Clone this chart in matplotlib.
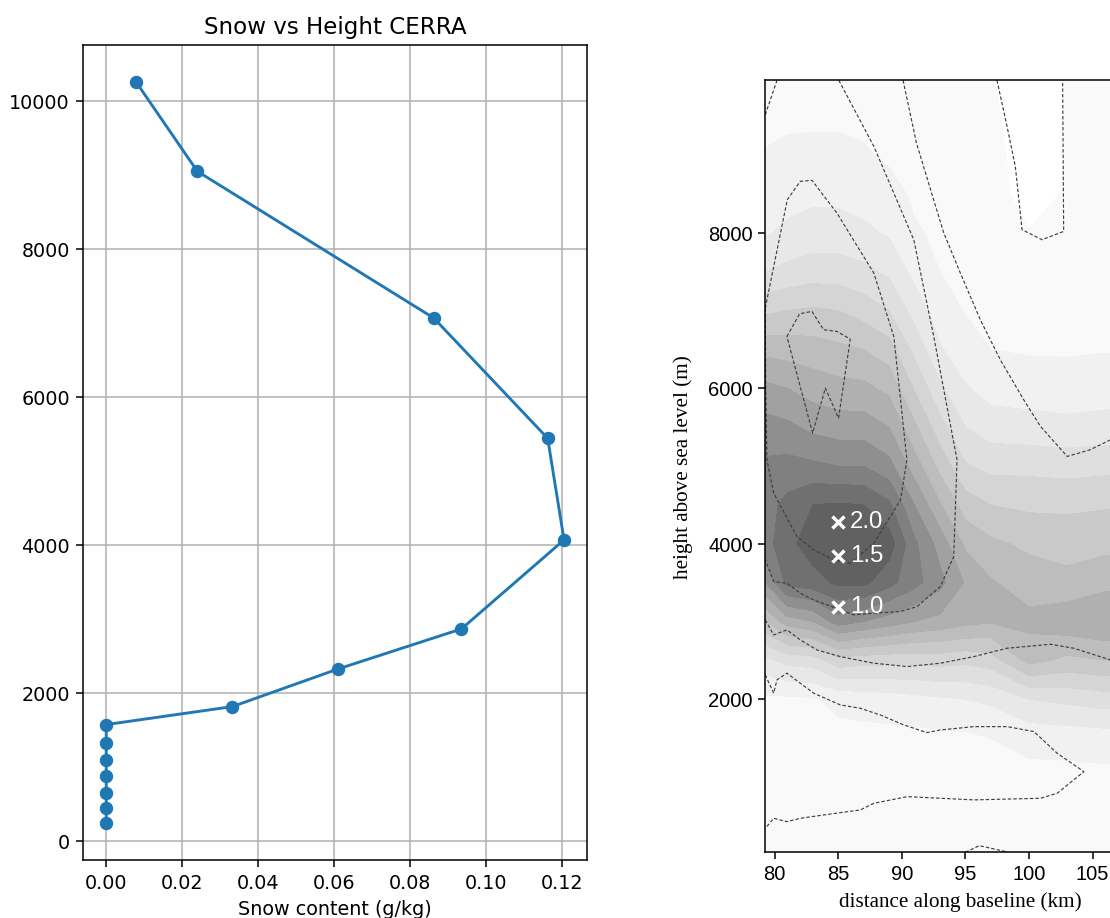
import matplotlib
matplotlib.use("Agg")
import matplotlib.pyplot as plt
import numpy as np

DPI = 138

# ---- left panel: CERRA snow profile ----
snow_content = [0.0, 0.0, 0.0, 0.0, 0.0, 0.0, 0.0, 0.0332, 0.0611, 0.0935,
                0.1205, 0.1162, 0.0862, 0.0240, 0.0078]
snow_height = [248, 451, 651, 888, 1104, 1330, 1577, 1820, 2330, 2870,
               4073, 5446, 7072, 9054, 10266]

# ---- right panel: cross-section (distance km x height m) ----
dist_km = [79.3, 81, 83, 85, 87, 89, 91, 93, 95, 97, 100, 103, 106, 110]
height_m = [0, 500, 1000, 1500, 2000, 2500, 3000, 3500, 4000, 4500, 5000,
            5500, 6000, 6500, 7000, 7500, 8000, 8500, 9000, 9500, 10000]

# shading class, one list per distance column (bottom -> top)
shade_cols = [
    [0.2, 0.2, 0.2, 0.2, 0.3, 2.2, 5.5, 8.5, 10.1, 10.1, 9.7, 8.9, 7.75, 6.2, 4.3, 2.5, 1.41, 0.95, 0.55, 0.3, 0.2],
    [0.2, 0.2, 0.2, 0.2, 0.3, 2.83, 7.0, 10.8, 11.2, 10.8, 9.83, 8.72, 7.5, 6.07, 4.5, 2.79, 1.7, 1.15, 0.72, 0.3, 0.2],
    [0.2, 0.2, 0.2, 0.2, 0.4, 3.0, 7.5, 11.1, 12.0, 11.5, 9.7, 8.25, 7.06, 5.94, 4.64, 3.0, 1.95, 1.26, 0.79, 0.3, 0.2],
    [0.2, 0.2, 0.2, 0.2, 0.75, 4.1, 9.0, 11.7, 12.3, 11.6, 9.5, 8.0, 6.83, 5.72, 4.5, 3.0, 1.93, 1.25, 0.78, 0.3, 0.2],
    [0.2, 0.2, 0.2, 0.2, 0.9, 3.9, 8.5, 11.75, 12.4, 11.5, 9.5, 8.0, 6.75, 5.5, 4.07, 2.75, 1.7, 1.1, 0.6, 0.3, 0.15],
    [0.2, 0.2, 0.2, 0.2, 1.0, 3.83, 8.0, 10.83, 12.0, 10.7, 8.83, 7.5, 6.25, 4.93, 3.5, 2.3, 1.39, 0.83, 0.35, 0.2, 0.1],
    [0.2, 0.2, 0.2, 0.2, 1.2, 3.8, 7.5, 9.85, 9.7, 8.5, 7.0, 5.7, 4.4, 3.2, 2.1, 1.2, 0.6, 0.35, 0.25, 0.15, 0.1],
    [0.2, 0.2, 0.2, 0.25, 1.35, 3.9, 7.2, 8.8, 8.1, 6.6, 5.2, 3.9, 2.7, 1.6, 0.95, 0.5, 0.35, 0.25, 0.15, 0.1, 0.1],
    [0.2, 0.2, 0.2, 0.3, 1.5, 3.75, 6.8, 7.4, 6.3, 5.0, 3.6, 2.5, 1.6, 0.9, 0.45, 0.35, 0.3, 0.2, 0.15, 0.1, 0.05],
    [0.2, 0.2, 0.2, 0.5, 1.7, 4.0, 6.6, 6.6, 5.7, 4.5, 3.2, 2.0, 1.1, 0.5, 0.35, 0.3, 0.25, 0.2, 0.2, 0.1, 0.05],
    [0.2, 0.2, 0.2, 0.83, 2.5, 5.83, 6.8, 6.0, 5.3, 4.3, 3.2, 1.9, 1.0, 0.4, 0.3, 0.2, 0.02, -0.2, -0.3, -0.3, -0.3],
    [0.2, 0.2, 0.2, 0.9, 2.75, 5.25, 7.2, 5.8, 5.1, 4.3, 3.1, 1.8, 0.9, 0.4, 0.3, 0.2, 0.1, 0.05, 0.02, 0.02, 0.02],
    [0.2, 0.2, 0.25, 1.0, 3.0, 5.5, 7.5, 6.2, 5.2, 4.4, 3.2, 1.9, 1.0, 0.45, 0.35, 0.25, 0.15, 0.1, 0.08, 0.06, 0.05],
    [0.2, 0.2, 0.25, 1.0, 3.0, 5.5, 7.4, 6.2, 5.2, 4.4, 3.2, 1.9, 1.0, 0.45, 0.35, 0.25, 0.15, 0.1, 0.08, 0.06, 0.05],
]
shade_levels = [0, 0.5, 1.5, 2.5, 3.5, 4.5, 5.5, 6.5, 7.5, 8.5, 9.5, 10.5, 11.5, 14]
shade_grays = [0.976, 0.945, 0.91, 0.875, 0.835, 0.79, 0.74, 0.69, 0.63, 0.56, 0.50, 0.44, 0.38]

# dashed contour lines (km, m)
dash_inner = [(80.97, 6668), (81.97, 6960), (82.94, 6990), (83.85, 6754), (84.9, 6733),
              (85.95, 6634), (85.03, 5617), (83.99, 6003), (82.99, 5424), (80.97, 6668)]
dash_second = [(79.27, 7033), (81.0, 8428), (82.02, 8664), (82.94, 8677), (84.9, 8256),
               (87.8, 7484), (89.37, 6668), (90.4, 5080), (89.9, 4565), (87.8, 4008),
               (85.95, 3750), (84.64, 3793), (83.07, 3922), (81.76, 4093), (79.93, 4651),
               (79.4, 5080), (79.3, 6000), (79.27, 7033)]
dash_third_top = [(79.27, 9522), (80.19, 9964)]
dash_third = [(85.05, 9964), (87.8, 9115), (89.37, 8514), (90.94, 7913), (92.51, 6668),
              (94.34, 5080), (94.08, 3836), (93.03, 3450), (91.2, 3192), (89.89, 3128),
              (87.8, 3107), (86.22, 3085), (85.17, 3150), (83.07, 3278), (82.02, 3364),
              (80.97, 3493), (79.93, 3514), (79.27, 3793)]
dash_fourth = [(90.1, 9964), (91.15, 9158), (92.5, 8428), (93.3, 7999), (94.6, 7484),
               (96.17, 6883), (97.74, 6368), (99.58, 5853), (100.9, 5510), (103.0, 5124),
               (104.8, 5210), (106.4, 5338), (110.0, 5600)]
dash_notch = [(97.48, 9964), (98.27, 9372), (98.92, 8857), (99.45, 8042), (101.02, 7913),
              (102.72, 8020), (102.64, 9964)]
dash_mid = [(79.27, 3020), (79.93, 2827), (80.97, 2892), (82.02, 2763), (83.33, 2634),
            (85.17, 2548), (87.8, 2463), (90.42, 2420), (93.04, 2463), (95.66, 2548),
            (98.28, 2656), (101.7, 2707), (103.5, 2656), (106.4, 2505), (110.0, 2400)]
dash_tongue = [(79.27, 2312), (79.93, 2078), (80.19, 2249), (80.97, 2335), (82.02, 2206),
               (83.07, 2078), (85.17, 1926), (86.74, 1883), (88.31, 1797), (90.15, 1669),
               (91.98, 1570), (93.03, 1604), (95.66, 1647), (98.28, 1647), (100.38, 1583),
               (102.21, 1304), (104.31, 1068), (102.21, 789), (100.9, 725), (95.66, 704),
               (90.42, 746), (87.8, 660), (86.74, 575), (83.85, 510), (82.02, 467),
               (80.97, 424), (79.93, 467), (79.27, 338)]
dash_ground = [(95.0, 30), (96.09, 115), (98.4, 30)]

mark_km = [85, 85, 85]
mark_m = [4286, 3846, 3192]
mark_labels = ["2.0", "1.5", "1.0"]

fig = plt.figure(figsize=(1110.4 / DPI, 918.4 / DPI), dpi=DPI)

# left panel
ax1 = fig.add_axes([83.3 / 1110, 58 / 918, 503.4 / 1110, 815 / 918])
ax1.plot(snow_content, snow_height, marker='o')
ax1.set_title("Snow vs Height CERRA")
ax1.set_xlabel("Snow content (g/kg)")
ax1.grid(True)

# right panel (its right part runs off the figure, as in the reference)
x_lo, x_hi = 79.27, 110.0
px_per_km = 12.72
ax2 = fig.add_axes([765 / 1110, 65.7 / 918, (x_hi - x_lo) * px_per_km / 1110, 771.6 / 918])
Z = np.array(shade_cols).T
ax2.contourf(dist_km, height_m, Z, levels=shade_levels,
             colors=[str(g) for g in shade_grays])
for line in [dash_inner, dash_second, dash_third_top, dash_third, dash_fourth,
             dash_notch, dash_mid, dash_tongue, dash_ground]:
    xs, ys = zip(*line)
    ax2.plot(xs, ys, color='#3c3c3c', lw=0.6, ls=(0, (3.0, 1.8)))
ax2.plot(mark_km, mark_m, ls='none', marker='x', color='white', ms=6, mew=1.8)
for xk, zm, lab in zip(mark_km, mark_m, mark_labels):
    ax2.annotate(lab, (xk, zm), xytext=(6, 0), textcoords='offset points',
                 color='white', fontsize=12.5, family='Liberation Sans',
                 ha='left', va='center')
ax2.set_xlim(x_lo, x_hi)
ax2.set_ylim(30, 9964)
ax2.set_xticks([80, 85, 90, 95, 100, 105])
ax2.set_yticks([2000, 4000, 6000, 8000])
ax2.tick_params(direction='out', length=3.6, width=0.8, labelsize=10.5, pad=3)
for lab in ax2.get_xticklabels() + ax2.get_yticklabels():
    lab.set_family('Liberation Sans')
ax2.set_xlabel("distance along baseline (km)", family='Liberation Serif', fontsize=11)
ax2.set_ylabel("height above sea level (m)", family='Liberation Serif', fontsize=11,
               labelpad=8)

fig.savefig("out.png", dpi=DPI)
